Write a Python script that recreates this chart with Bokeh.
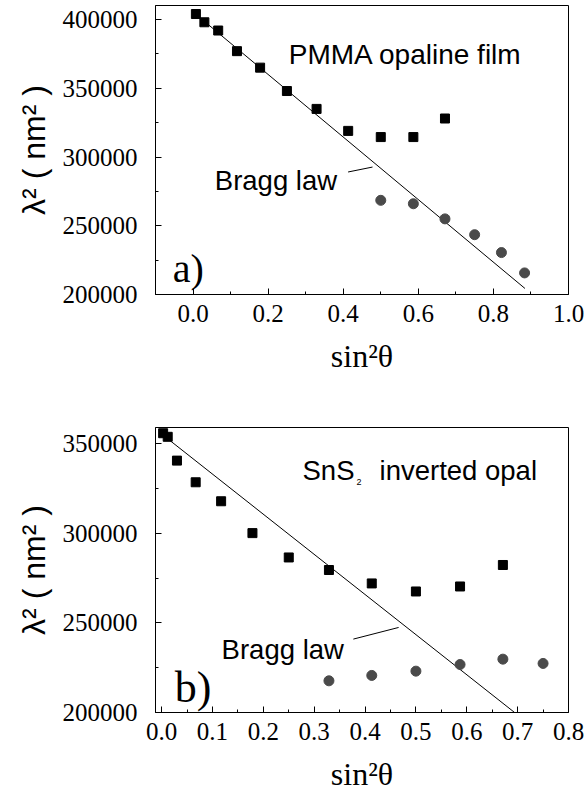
from bokeh.plotting import figure
from bokeh.models import Range1d, FixedTicker, NumeralTickFormatter, Label
from bokeh.layouts import column
from bokeh.embed import file_html
from bokeh.resources import INLINE

# ---------------- data: panel a) PMMA opaline film ----------------
a_sq_x = [0.0076, 0.0302, 0.0670, 0.1170, 0.1786, 0.2500, 0.3290, 0.4132, 0.5000, 0.5868, 0.6710]
a_sq_y = [404000, 398000, 392000, 377000, 365000, 348000, 335000, 319000, 314500, 314500, 328000]
a_ci_x = [0.5000, 0.5868, 0.6710, 0.7500, 0.8214, 0.8830]
a_ci_y = [268500, 266000, 255000, 243500, 230500, 215700]
a_bragg_x = [0.005, 0.884]
a_bragg_y = [404400, 204400]
a_leader_x = [0.413, 0.478]
a_leader_y = [289100, 292700]
a_x_ticks = [0.0, 0.2, 0.4, 0.6, 0.8, 1.0]
a_x_minor = [0.1, 0.3, 0.5, 0.7, 0.9]
a_y_ticks = [200000, 250000, 300000, 350000, 400000]
a_y_minor = [225000, 275000, 325000, 375000]

# ---------------- data: panel b) SnS2 inverted opal ----------------
b_sq_x = [0.003, 0.012, 0.0302, 0.0670, 0.1170, 0.1786, 0.2500, 0.3290, 0.4132, 0.5000, 0.5868, 0.6710]
b_sq_y = [356000, 354000, 340700, 328600, 318000, 300200, 286600, 279600, 272100, 267600, 270400, 282400]
b_ci_x = [0.3290, 0.4132, 0.5000, 0.5868, 0.6710, 0.7500]
b_ci_y = [217700, 220700, 223100, 226800, 229800, 227400]
b_bragg_x = [0.0, 0.694]
b_bragg_y = [355600, 200000]
b_leader_x = [0.377, 0.466]
b_leader_y = [241000, 247500]
b_x_ticks = [0.0, 0.1, 0.2, 0.3, 0.4, 0.5, 0.6, 0.7, 0.8]
b_x_minor = [0.05, 0.15, 0.25, 0.35, 0.45, 0.55, 0.65, 0.75]
b_y_ticks = [200000, 250000, 300000, 350000]
b_y_minor = [225000, 275000, 325000]

Y_LABEL = "λ² ( nm² )"
X_LABEL = "sin²θ"
SERIF = "Liberation Serif"
SANS = "Liberation Sans"


def make_fig(xr, yr, frame_h, mb_top, mb_bottom, xt, xm, yt, ym):
    p = figure(output_backend="svg", toolbar_location=None,
               frame_width=413, frame_height=frame_h,
               x_range=Range1d(*xr), y_range=Range1d(*yr),
               min_border_left=155, min_border_right=18,
               min_border_top=mb_top, min_border_bottom=mb_bottom,
               background_fill_color="white", border_fill_color="white")
    p.grid.visible = False
    p.outline_line_color = "black"
    p.outline_line_alpha = 1.0
    p.outline_line_width = 1
    p.xaxis.ticker = FixedTicker(ticks=xt, minor_ticks=xm)
    p.yaxis.ticker = FixedTicker(ticks=yt, minor_ticks=ym)
    p.xaxis.formatter = NumeralTickFormatter(format="0.0")
    p.yaxis.formatter = NumeralTickFormatter(format="0")
    for ax in (p.xaxis, p.yaxis):
        ax.axis_line_color = "black"
        ax.axis_line_width = 1
        ax.major_tick_in = 6
        ax.major_tick_out = 0
        ax.minor_tick_in = 3
        ax.minor_tick_out = 0
        ax.major_tick_line_color = "black"
        ax.minor_tick_line_color = "black"
        ax.major_label_text_font = SERIF
        ax.major_label_text_font_size = "25px"
        ax.major_label_text_color = "black"
    p.xaxis.major_label_standoff = 10
    p.yaxis.major_label_standoff = 18
    p.xaxis.axis_label = X_LABEL
    p.xaxis.axis_label_text_font = SERIF
    p.xaxis.axis_label_text_font_size = "32px"
    p.xaxis.axis_label_text_font_style = "normal"
    p.xaxis.axis_label_text_color = "black"
    p.xaxis.axis_label_standoff = 13
    p.yaxis.axis_label = Y_LABEL
    p.yaxis.axis_label_text_font = SANS
    p.yaxis.axis_label_text_font_size = "32px"
    p.yaxis.axis_label_text_font_style = "normal"
    p.yaxis.axis_label_text_color = "black"
    p.yaxis.axis_label_standoff = 8
    return p


def txt(p, x, y, s, font, size):
    p.add_layout(Label(x=x, y=y, text=s, text_font=font, text_font_size=size,
                       text_color="black", text_baseline="alphabetic", text_align="left"))


# ---------------- panel a ----------------
p1 = make_fig((-0.1, 1.0), (200000, 410200), 289, 5, 100,
              a_x_ticks, a_x_minor, a_y_ticks, a_y_minor)
p1.line(a_bragg_x, a_bragg_y, line_color="black", line_width=1)
p1.line(a_leader_x, a_leader_y, line_color="black", line_width=1)
p1.scatter(a_sq_x, a_sq_y, marker="square", size=9, fill_color="black", line_color="black")
p1.scatter(a_ci_x, a_ci_y, marker="circle", size=10, fill_color="#4a4a4a", line_color="#4a4a4a")
txt(p1, 0.255, 374600, "PMMA opaline film", SANS, "28px")
txt(p1, 0.058, 283000, "Bragg law", SANS, "27.5px")
txt(p1, -0.054, 218900, "a)", SERIF, "40px")

# ---------------- panel b ----------------
p2 = make_fig((-0.012, 0.8), (200000, 359200), 285, 33, 88,
              b_x_ticks, b_x_minor, b_y_ticks, b_y_minor)
p2.line(b_bragg_x, b_bragg_y, line_color="black", line_width=1)
p2.line(b_leader_x, b_leader_y, line_color="black", line_width=1)
p2.scatter(b_sq_x, b_sq_y, marker="square", size=9, fill_color="black", line_color="black")
p2.scatter(b_ci_x, b_ci_y, marker="circle", size=10, fill_color="#4a4a4a", line_color="#4a4a4a")
txt(p2, 0.277, 335400, "SnS", SANS, "27.5px")
txt(p2, 0.383, 328900, "2", SANS, "9px")
txt(p2, 0.4285, 335400, "inverted opal", SANS, "27.5px")
txt(p2, 0.118, 235400, "Bragg law", SANS, "27.5px")
txt(p2, 0.026, 213800, "b)", SERIF, "44px")

layout = column(p1, p2, spacing=0)
open("out.html", "w").write(file_html(layout, INLINE))
